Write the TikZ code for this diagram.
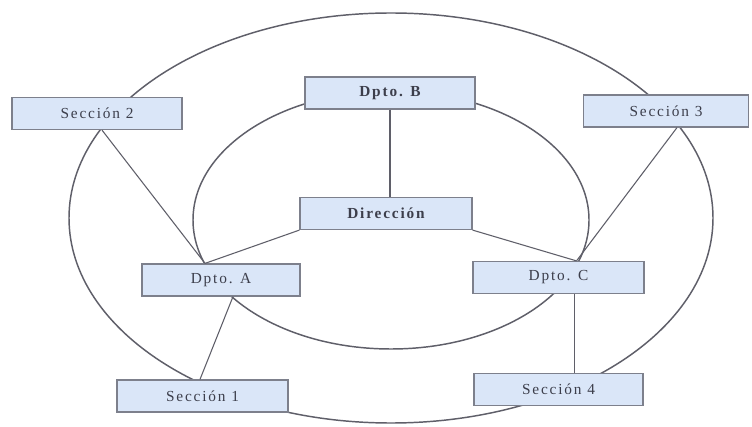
\documentclass[tikz,border=0pt]{standalone}
\usepackage{fontspec}
\setmainfont{Liberation Serif}[LetterSpace=12]
\usetikzlibrary{calc}
\definecolor{boxfill}{RGB}{218,230,248}
\definecolor{boxline}{RGB}{125,128,140}
\definecolor{ringline}{RGB}{95,95,105}
\definecolor{txt}{RGB}{60,62,75}
\tikzset{
  orgbox/.style={draw=boxline, line width=0.9pt, fill=boxfill, minimum width=#1*0.75pt, minimum height=24pt, inner sep=0pt, font=\fontsize{11.5}{13}\selectfont, text=txt},
  orgbox/.default=170,
  ring/.style={draw=ringline, line width=1.1pt},
  link/.style={draw=ringline, line width=0.8pt}
}
\begin{document}
\begin{tikzpicture}[x=0.75pt,y=-0.75pt]
\useasboundingbox (0,0) rectangle (752,427);
\fill[white] (0,0) rectangle (752,427);
% rings
\draw[ring] (391,218) ellipse [x radius=322, y radius=205];
\draw[ring] (391,220) ellipse [x radius=198, y radius=129];
% nodes
\node[orgbox=170] (s2) at (97,113.5) {Sección 2};
\node[orgbox=170] (b) at (390,93) {\bfseries Dpto. B};
\node[orgbox=165] (s3) at (666,111) {Sección 3};
\node[orgbox=172] (dir) at (386,213.5) {\bfseries Dirección};
\node[orgbox=158] (a) at (221,280) {Dpto. A};
\node[orgbox=171] (c) at (558.5,277.5) {Dpto. C};
\node[orgbox=171] (s1) at (202.5,396) {Sección 1};
\node[orgbox=169] (s4) at (558.5,389.5) {Sección 4};
% connectors
\path[link] ($(s2.south)+(5,0)$) -- ($(a.north)+(-16,0)$);
\path[link] (dir.south west) -- ($(a.north)+(-16,0)$);
\path[link] (b.south) -- (b.south |- dir.north);
\path[link] (dir.south east) -- ($(c.north)+(18,0)$);
\path[link] ($(s3.south)+(11,0)$) -- ($(c.north)+(18,0)$);
\path[link] ($(a.south)+(12,0)$) -- ($(s1.north)+(-2.5,0)$);
\path[link] ($(c.south)+(16,0)$) -- ($(s4.north)+(16,0)$);
\end{tikzpicture}
\end{document}
